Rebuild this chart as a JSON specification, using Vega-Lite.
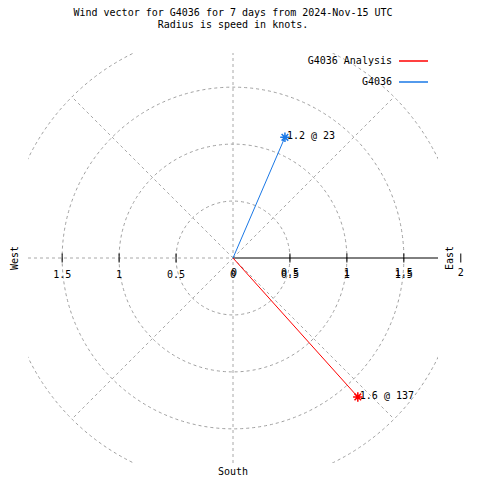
{
  "$schema": "https://vega.github.io/schema/vega-lite/v6.json",
  "width": 410,
  "height": 410,
  "autosize": {"type": "none"},
  "padding": {"left": 28, "top": 53, "right": 42, "bottom": 17},
  "background": "white",
  "config": {"view": {"stroke": null}, "font": "DejaVu Sans Mono"},
  "title": {
    "text": ["Wind vector for G4036 for 7 days from 2024-Nov-15 UTC", "Radius is speed in knots."],
    "font": "DejaVu Sans Mono",
    "fontSize": 10,
    "fontWeight": "normal",
    "color": "black",
    "lineHeight": 12,
    "anchor": "middle",
    "offset": 16
  },
  "datasets": {
    "circles": [{"r": 0.5, "cx": 0, "cy": 0}, {"r": 1, "cx": 0, "cy": 0}, {"r": 1.5, "cx": 0, "cy": 0}, {"r": 2, "cx": 0, "cy": 0}],
    "spokes": [
      {"x": 0, "y": 0, "x2": 1.414, "y2": 1.414},
      {"x": 0, "y": 0, "x2": -1.414, "y2": 1.414},
      {"x": 0, "y": 0, "x2": -1.414, "y2": -1.414},
      {"x": 0, "y": 0, "x2": 1.414, "y2": -1.414},
      {"x": 0, "y": -1.8, "x2": 0, "y2": 1.8},
      {"x": -1.8, "y": 0, "x2": 0, "y2": 0}
    ],
    "axisline": [{"x": 0, "y": 0, "x2": 1.8, "y2": 0}],
    "ticks": [{"v": -1.5, "y": 0}, {"v": -1, "y": 0}, {"v": -0.5, "y": 0}, {"v": 0.5, "y": 0}, {"v": 1, "y": 0}, {"v": 1.5, "y": 0}, {"v": 2, "y": 0}],
    "labelsA": [
      {"v": -1.5, "y": 0, "t": "1.5"}, {"v": -1, "y": 0, "t": "1"}, {"v": -0.5, "y": 0, "t": "0.5"}, {"v": 0, "y": 0, "t": "0"},
      {"v": 0.5, "y": 0, "t": "0.5"}, {"v": 1, "y": 0, "t": "1"}, {"v": 1.5, "y": 0, "t": "1.5"}
    ],
    "labelsB": [
      {"v": 0.01, "y": 0, "t": "0"}, {"v": 0.5, "y": 0, "t": "0.5"}, {"v": 1, "y": 0, "t": "1"}, {"v": 1.5, "y": 0, "t": "1.5"}, {"v": 2, "y": 0, "t": "2"}
    ],
    "vectors": [
      {"series": "G4036 Analysis", "speed": 1.6, "dir": 137, "x0": 0, "y0": 0, "ex": 1.096, "ey": -1.22, "label": "1.6 @ 137"},
      {"series": "G4036", "speed": 1.2, "dir": 23, "x0": 0, "y0": 0, "ex": 0.456, "ey": 1.06, "label": "1.2 @ 23"}
    ],
    "compassV": [{"t": "West", "x": -1.91, "y": 0}, {"t": "East", "x": 1.905, "y": 0}],
    "compassH": [{"t": "South", "x": 0, "y": -1.877}]
  },
  "layer": [
    {
      "data": {"name": "circles"},
      "mark": {"type": "point", "shape": "circle", "filled": false, "stroke": "#a0a0a0", "strokeWidth": 1, "strokeDash": [3, 3], "clip": true, "opacity": 1},
      "encoding": {
        "x": {"field": "cx", "type": "quantitative", "scale": {"domain": [-1.8, 1.8], "nice": false, "zero": false}, "axis": null},
        "y": {"field": "cy", "type": "quantitative", "scale": {"domain": [-1.8, 1.8], "nice": false, "zero": false}, "axis": null},
        "size": {"field": "r", "type": "quantitative", "scale": {"type": "pow", "exponent": 2, "domain": [0, 2], "range": [0, 207571]}, "legend": null}
      }
    },
    {
      "data": {"name": "spokes"},
      "mark": {"type": "rule", "stroke": "#a8a8a8", "strokeWidth": 1, "strokeDash": [3, 3], "clip": true},
      "encoding": {
        "x": {"field": "x", "type": "quantitative", "scale": {"domain": [-1.8, 1.8], "nice": false, "zero": false}, "axis": null},
        "y": {"field": "y", "type": "quantitative", "scale": {"domain": [-1.8, 1.8], "nice": false, "zero": false}, "axis": null},
        "x2": {"field": "x2"},
        "y2": {"field": "y2"}
      }
    },
    {
      "data": {"name": "axisline"},
      "mark": {"type": "rule", "stroke": "black", "strokeWidth": 1},
      "encoding": {
        "x": {"field": "x", "type": "quantitative", "scale": {"domain": [-1.8, 1.8], "nice": false, "zero": false}, "axis": null},
        "y": {"field": "y", "type": "quantitative", "scale": {"domain": [-1.8, 1.8], "nice": false, "zero": false}, "axis": null},
        "x2": {"field": "x2"},
        "y2": {"field": "y2"}
      }
    },
    {
      "data": {"name": "ticks"},
      "mark": {"type": "tick", "orient": "vertical", "color": "black", "thickness": 1, "size": 9, "clip": false, "opacity": 1},
      "encoding": {
        "x": {"field": "v", "type": "quantitative", "scale": {"domain": [-1.8, 1.8], "nice": false, "zero": false}, "axis": null},
        "y": {"field": "y", "type": "quantitative", "scale": {"domain": [-1.8, 1.8], "nice": false, "zero": false}, "axis": null}
      }
    },
    {
      "data": {"name": "labelsA"},
      "mark": {"type": "text", "font": "DejaVu Sans Mono", "fontSize": 10, "color": "black", "align": "center", "baseline": "middle", "dy": 17},
      "encoding": {
        "x": {"field": "v", "type": "quantitative", "scale": {"domain": [-1.8, 1.8], "nice": false, "zero": false}, "axis": null},
        "y": {"field": "y", "type": "quantitative", "scale": {"domain": [-1.8, 1.8], "nice": false, "zero": false}, "axis": null},
        "text": {"field": "t"}
      }
    },
    {
      "data": {"name": "labelsB"},
      "mark": {"type": "text", "font": "DejaVu Sans Mono", "fontSize": 10, "color": "black", "align": "center", "baseline": "middle", "dy": 14.5},
      "encoding": {
        "x": {"field": "v", "type": "quantitative", "scale": {"domain": [-1.8, 1.8], "nice": false, "zero": false}, "axis": null},
        "y": {"field": "y", "type": "quantitative", "scale": {"domain": [-1.8, 1.8], "nice": false, "zero": false}, "axis": null},
        "text": {"field": "t"}
      }
    },
    {
      "data": {"name": "vectors"},
      "mark": {"type": "rule", "strokeWidth": 1},
      "encoding": {
        "x": {"field": "x0", "type": "quantitative", "scale": {"domain": [-1.8, 1.8], "nice": false, "zero": false}, "axis": null},
        "y": {"field": "y0", "type": "quantitative", "scale": {"domain": [-1.8, 1.8], "nice": false, "zero": false}, "axis": null},
        "x2": {"field": "ex"},
        "y2": {"field": "ey"},
        "color": {
          "field": "series", "type": "nominal",
          "scale": {"domain": ["G4036 Analysis", "G4036"], "range": ["#ff0000", "#1a78e6"]},
          "legend": {
            "title": null, "orient": "none", "legendX": 370, "legendY": -7.5, "padding": 0,
            "symbolType": "stroke", "symbolSize": 841, "symbolStrokeWidth": 1.5,
            "labelAlign": "right", "labelOffset": -37, "labelFont": "DejaVu Sans Mono",
            "labelFontSize": 10, "labelColor": "black", "rowPadding": 0,
            "labelLimit": 300
          }
        }
      }
    },
    {
      "data": {"name": "vectors"},
      "mark": {"type": "point", "shape": "M-1,0L1,0M0,-1L0,1M-0.7,-0.7L0.7,0.7M-0.7,0.7L0.7,-0.7", "filled": false, "strokeWidth": 1.5, "size": 90, "opacity": 1},
      "encoding": {
        "x": {"field": "ex", "type": "quantitative", "scale": {"domain": [-1.8, 1.8], "nice": false, "zero": false}, "axis": null},
        "y": {"field": "ey", "type": "quantitative", "scale": {"domain": [-1.8, 1.8], "nice": false, "zero": false}, "axis": null},
        "color": {"field": "series", "type": "nominal", "legend": null}
      }
    },
    {
      "data": {"name": "vectors"},
      "mark": {"type": "text", "font": "DejaVu Sans Mono", "fontSize": 10, "color": "black", "align": "left", "baseline": "middle", "dx": 2, "dy": -1},
      "encoding": {
        "x": {"field": "ex", "type": "quantitative", "scale": {"domain": [-1.8, 1.8], "nice": false, "zero": false}, "axis": null},
        "y": {"field": "ey", "type": "quantitative", "scale": {"domain": [-1.8, 1.8], "nice": false, "zero": false}, "axis": null},
        "text": {"field": "label"}
      }
    },
    {
      "data": {"name": "compassV"},
      "mark": {"type": "text", "font": "DejaVu Sans Mono", "fontSize": 10, "color": "black", "align": "center", "baseline": "middle", "angle": 270},
      "encoding": {
        "x": {"field": "x", "type": "quantitative", "scale": {"domain": [-1.8, 1.8], "nice": false, "zero": false}, "axis": null},
        "y": {"field": "y", "type": "quantitative", "scale": {"domain": [-1.8, 1.8], "nice": false, "zero": false}, "axis": null},
        "text": {"field": "t"}
      }
    },
    {
      "data": {"name": "compassH"},
      "mark": {"type": "text", "font": "DejaVu Sans Mono", "fontSize": 10, "color": "black", "align": "center", "baseline": "middle"},
      "encoding": {
        "x": {"field": "x", "type": "quantitative", "scale": {"domain": [-1.8, 1.8], "nice": false, "zero": false}, "axis": null},
        "y": {"field": "y", "type": "quantitative", "scale": {"domain": [-1.8, 1.8], "nice": false, "zero": false}, "axis": null},
        "text": {"field": "t"}
      }
    }
  ]
}
